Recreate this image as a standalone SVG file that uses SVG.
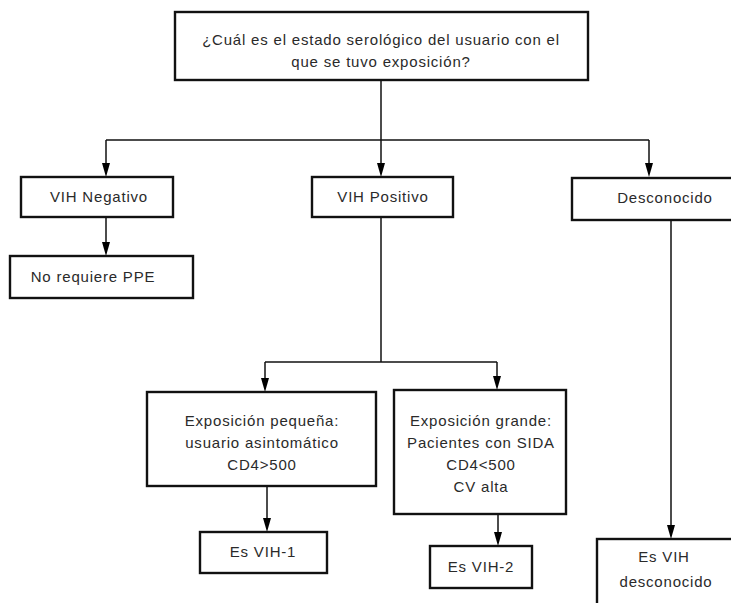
<svg xmlns="http://www.w3.org/2000/svg" width="731" height="603" viewBox="0 0 731 603">
<defs>
<style>
.box{fill:#fff;stroke:#111;stroke-width:2.4}
.t{font-family:"Liberation Sans",Arial,sans-serif;font-size:15px;letter-spacing:0.8px;fill:#2a2a2a;text-anchor:middle}
.c{fill:none;stroke:#111;stroke-width:1.5}
</style>
</defs>
<rect width="731" height="603" fill="#fff"/>
<g id="connectors">
<path class="c" d="M381,80 V140"/>
<path class="c" d="M106,140 H649"/>
<path class="c" d="M106,140 V163"/><path d="M102,163 L110,163 L106,177 Z"/>
<path class="c" d="M381,140 V163"/><path d="M377,163 L385,163 L381,177 Z"/>
<path class="c" d="M649,140 V163"/><path d="M645,163 L653,163 L649,177 Z"/>
<path class="c" d="M106,217 V242"/><path d="M102,242 L110,242 L106,256 Z"/>
<path class="c" d="M381,217 V362"/>
<path class="c" d="M265,362 H497"/>
<path class="c" d="M265,362 V378"/><path d="M261,378 L269,378 L265,392 Z"/>
<path class="c" d="M497,362 V376"/><path d="M493,376 L501,376 L497,390 Z"/>
<path class="c" d="M267,486 V518"/><path d="M263,518 L271,518 L267,532 Z"/>
<path class="c" d="M498,514 V532"/><path d="M494,532 L502,532 L498,546 Z"/>
<path class="c" d="M671,220 V525"/><path d="M667,525 L675,525 L671,539 Z"/>
</g>
<g id="n-question">
<rect class="box" x="175" y="12" width="413" height="68"/>
<text class="t" x="381" y="45">¿Cuál es el estado serológico del usuario con el</text>
<text class="t" x="381" y="67">que se tuvo exposición?</text>
</g>
<g id="n-negativo">
<rect class="box" x="21" y="177" width="152" height="40"/>
<text class="t" x="99" y="202">VIH Negativo</text>
</g>
<g id="n-positivo">
<rect class="box" x="312" y="177" width="141" height="40"/>
<text class="t" x="383" y="202">VIH Positivo</text>
</g>
<g id="n-desconocido">
<rect class="box" x="572" y="178" width="170" height="42"/>
<text class="t" x="665" y="203">Desconocido</text>
</g>
<g id="n-noppe">
<rect class="box" x="10" y="256" width="183" height="42"/>
<text class="t" x="93" y="282">No requiere PPE</text>
</g>
<g id="n-pequena">
<rect class="box" x="147" y="392" width="229" height="94"/>
<text class="t" x="262" y="426">Exposición pequeña:</text>
<text class="t" x="262" y="448">usuario asintomático</text>
<text class="t" x="262" y="470">CD4&gt;500</text>
</g>
<g id="n-grande">
<rect class="box" x="394" y="390" width="172" height="124"/>
<text class="t" x="481" y="426">Exposición grande:</text>
<text class="t" x="481" y="448">Pacientes con SIDA</text>
<text class="t" x="481" y="470">CD4&lt;500</text>
<text class="t" x="481" y="492">CV alta</text>
</g>
<g id="n-vih1">
<rect class="box" x="200" y="532" width="127" height="41"/>
<text class="t" x="263" y="557">Es VIH-1</text>
</g>
<g id="n-vih2">
<rect class="box" x="430" y="546" width="102" height="42"/>
<text class="t" x="481" y="572">Es VIH-2</text>
</g>
<g id="n-vihdesc">
<rect class="box" x="597" y="539" width="150" height="80"/>
<text class="t" x="664" y="562">Es VIH</text>
<text class="t" x="666" y="587">desconocido</text>
</g>
</svg>
